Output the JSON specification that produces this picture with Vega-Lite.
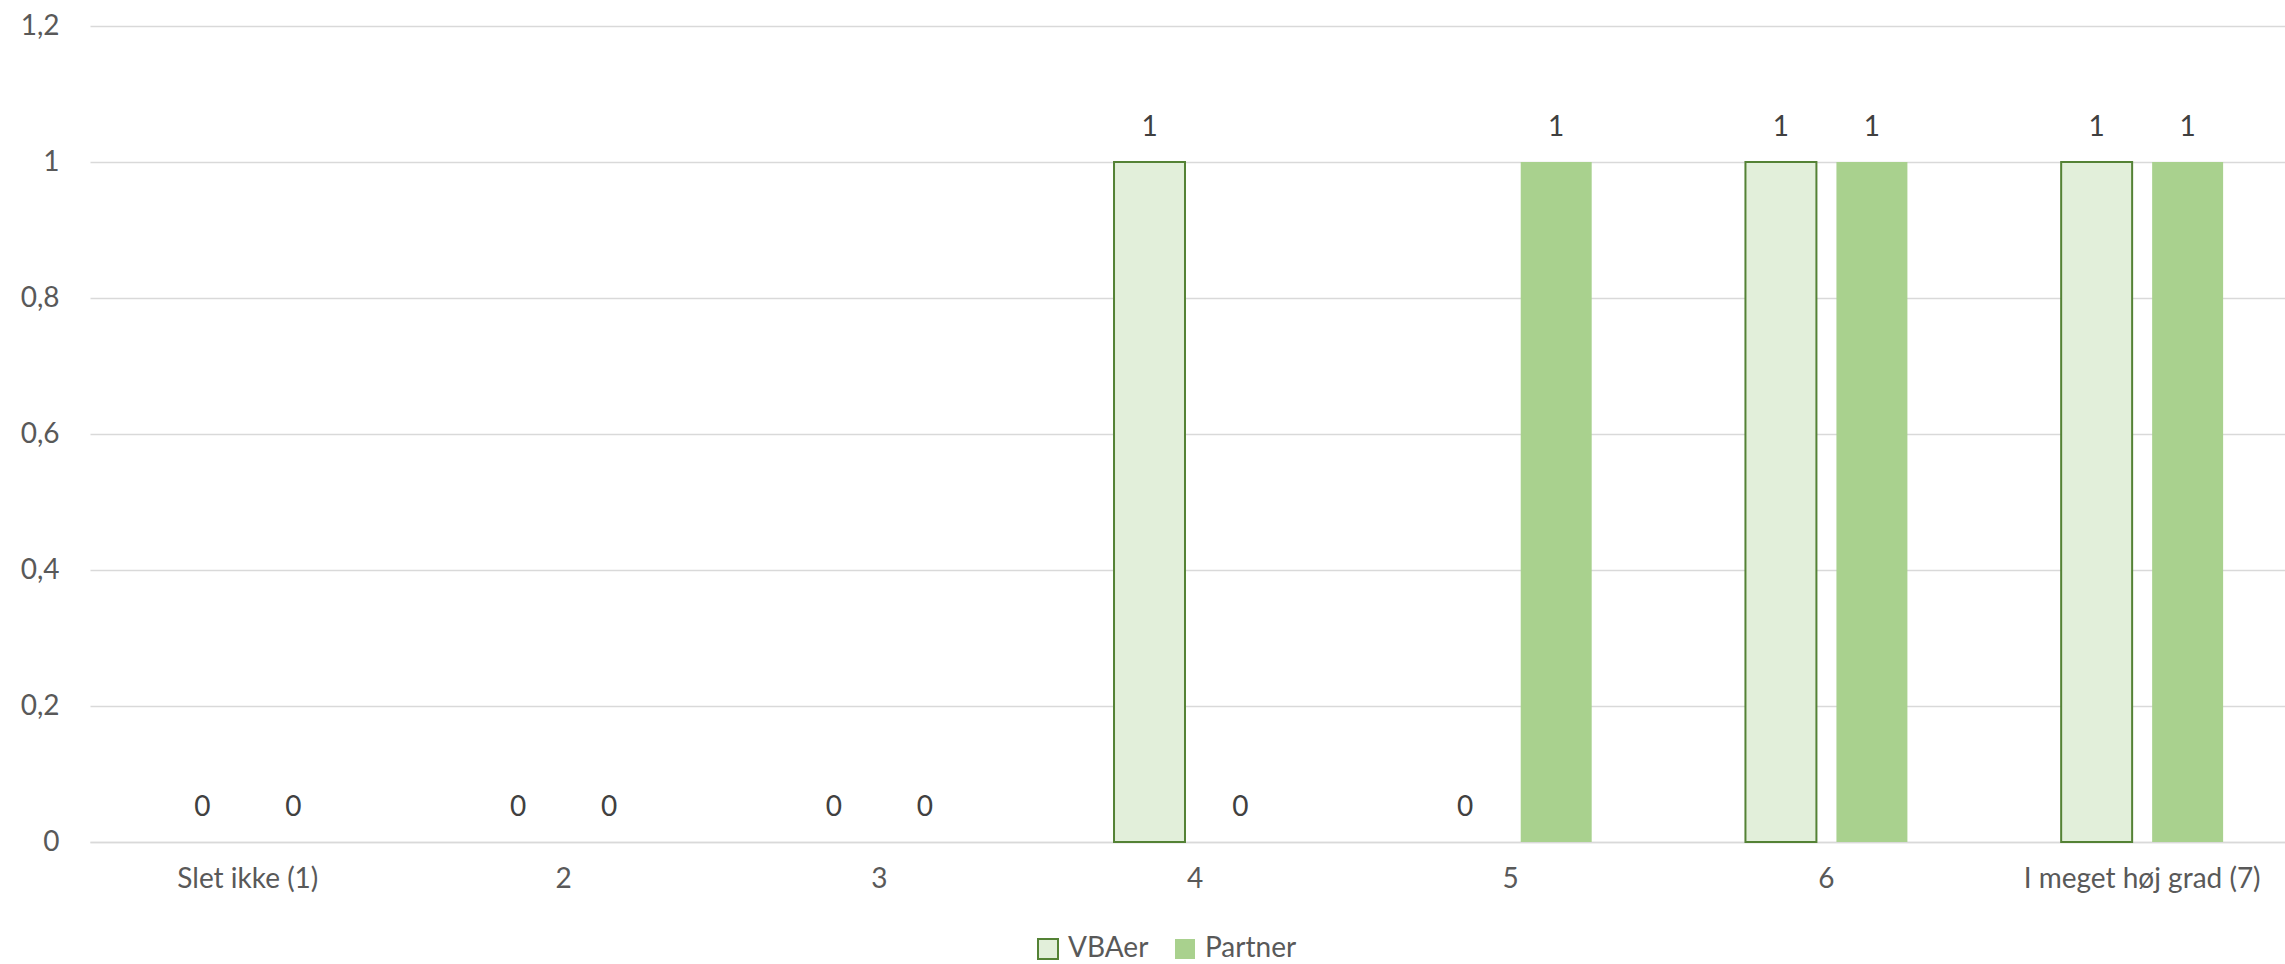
{
  "$schema": "https://vega.github.io/schema/vega-lite/v6.json",
  "width": 2195,
  "height": 816,
  "autosize": {"type": "none"},
  "padding": {"left": 90, "top": 26, "right": 0, "bottom": 122},
  "background": "white",
  "config": {"view": {"stroke": null}, "font": "Lato"},
  "data": {
    "values": [
      {"kategori": "Slet ikke (1)", "serie": "VBAer", "antal": 0},
      {"kategori": "Slet ikke (1)", "serie": "Partner", "antal": 0},
      {"kategori": "2", "serie": "VBAer", "antal": 0},
      {"kategori": "2", "serie": "Partner", "antal": 0},
      {"kategori": "3", "serie": "VBAer", "antal": 0},
      {"kategori": "3", "serie": "Partner", "antal": 0},
      {"kategori": "4", "serie": "VBAer", "antal": 1},
      {"kategori": "4", "serie": "Partner", "antal": 0},
      {"kategori": "5", "serie": "VBAer", "antal": 0},
      {"kategori": "5", "serie": "Partner", "antal": 1},
      {"kategori": "6", "serie": "VBAer", "antal": 1},
      {"kategori": "6", "serie": "Partner", "antal": 1},
      {"kategori": "I meget høj grad (7)", "serie": "VBAer", "antal": 1},
      {"kategori": "I meget høj grad (7)", "serie": "Partner", "antal": 1}
    ]
  },
  "encoding": {
    "x": {
      "field": "kategori",
      "type": "nominal",
      "sort": ["Slet ikke (1)", "2", "3", "4", "5", "6", "I meget høj grad (7)"],
      "scale": {"paddingInner": 0.487, "paddingOuter": 0.2435, "range": [0, 2210]},
      "axis": {
        "title": null,
        "labelAngle": 0,
        "labelFontSize": 28,
        "labelColor": "#595959",
        "labelPadding": 23,
        "labelLimit": 0,
        "ticks": false,
        "domainColor": "#d9d9d9",
        "domainWidth": 1.5,
        "grid": false
      }
    },
    "xOffset": {
      "field": "serie",
      "type": "nominal",
      "sort": ["VBAer", "Partner"],
      "scale": {"paddingInner": 0.22, "paddingOuter": 0}
    },
    "y": {
      "field": "antal",
      "type": "quantitative",
      "scale": {"domain": [0, 1.2], "nice": false},
      "axis": {
        "title": null,
        "values": [0, 0.2, 0.4, 0.6, 0.8, 1, 1.2],
        "labelExpr": "replace(format(datum.value, '.1~f'), '.', ',')",
        "labelFontSize": 28,
        "labelColor": "#595959",
        "labelPadding": 31,
        "ticks": false,
        "domain": false,
        "gridColor": "#d9d9d9",
        "gridWidth": 1.5
      }
    }
  },
  "layer": [
    {
      "transform": [{"filter": "datum.antal > 0"}],
      "mark": {"type": "bar", "strokeWidth": 2},
      "encoding": {
        "fill": {
          "field": "serie",
          "type": "nominal",
          "sort": ["VBAer", "Partner"],
          "scale": {"domain": ["VBAer", "Partner"], "range": ["#e2efda", "#a9d18e"]},
          "legend": {
            "title": null,
            "orient": "none",
            "direction": "horizontal",
            "legendX": 944,
            "legendY": 909,
            "symbolType": "square",
            "symbolSize": 400,
            "symbolStrokeWidth": 2,
            "labelFontSize": 28,
            "labelColor": "#595959",
            "labelOffset": 6,
            "columnPadding": 22
          }
        },
        "stroke": {
          "field": "serie",
          "type": "nominal",
          "sort": ["VBAer", "Partner"],
          "scale": {"domain": ["VBAer", "Partner"], "range": ["#548235", "transparent"]},
          "legend": {
            "title": null,
            "orient": "none",
            "direction": "horizontal",
            "legendX": 944,
            "legendY": 909,
            "symbolType": "square",
            "symbolSize": 400,
            "symbolStrokeWidth": 2,
            "labelFontSize": 28,
            "labelColor": "#595959",
            "labelOffset": 6,
            "columnPadding": 22
          }
        }
      }
    },
    {
      "mark": {"type": "text", "baseline": "bottom", "dy": -20, "fontSize": 28, "color": "#404040"},
      "encoding": {"text": {"field": "antal", "type": "quantitative"}}
    }
  ]
}
